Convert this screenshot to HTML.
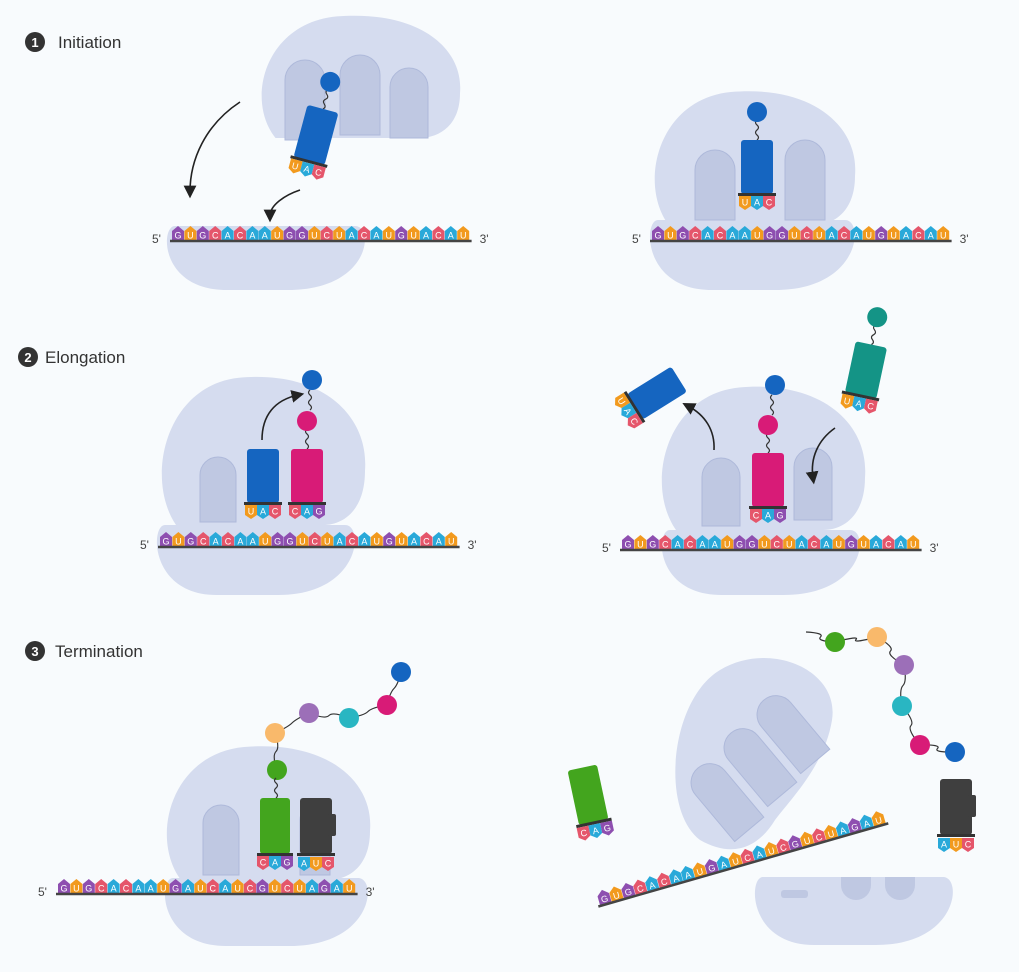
<!DOCTYPE html>
<html><head><meta charset="utf-8">
<style>
html,body{margin:0;padding:0;background:#f8fbfd;}
svg{display:block;font-family:"Liberation Sans",sans-serif;}
</style></head>
<body>
<svg id="s" width="1019" height="972" viewBox="0 0 1019 972" xmlns="http://www.w3.org/2000/svg">
<defs>
<marker id="ah" markerWidth="8" markerHeight="8" refX="4" refY="4" orient="auto"><path d="M0,0 L8,4 L0,8 Z" fill="#222"/></marker>
</defs>
<rect width="1019" height="972" fill="#f8fbfd"/>
<g id="rib" fill="#d5dcef"></g>
<g id="fg"></g>
<circle cx="35" cy="42" r="10" fill="#333"/><text x="35" y="47" font-size="13" fill="#fff" text-anchor="middle" font-weight="bold">1</text>
<text x="58" y="48" font-size="17" fill="#333">Initiation</text>
<circle cx="28" cy="357" r="10" fill="#333"/><text x="28" y="362" font-size="13" fill="#fff" text-anchor="middle" font-weight="bold">2</text>
<text x="45" y="363" font-size="17" fill="#333">Elongation</text>
<circle cx="35" cy="651" r="10" fill="#333"/><text x="35" y="656" font-size="13" fill="#fff" text-anchor="middle" font-weight="bold">3</text>
<text x="55" y="657" font-size="17" fill="#333">Termination</text>
</svg>
<script>
var C={G:"#8e4fb0",U:"#f29a1e",C:"#e5566b",A:"#29a9d9"};
var rib=document.getElementById('rib'),fg=document.getElementById('fg');
var R='',F='';
function tunnel(x,y,w,h){return '<path d="M'+x+','+(y+h)+' V'+(y+w/2)+' a'+(w/2)+','+(w/2)+' 0 0 1 '+w+',0 V'+(y+h)+' Z" fill="#bfc8e2" stroke="#aeb9da" stroke-width="1"/>';}
function large(x,y,w,h,tunnels){
  var s='<path d="M'+(x+w*0.1)+','+(y+h)+' C'+(x-w*0.05)+','+(y+h*0.7)+' '+(x+w*0.05)+','+(y+h*0.1)+' '+(x+w*0.4)+','+(y+h*0.05)+' C'+(x+w*0.8)+','+(y)+' '+(x+w*1.02)+','+(y+h*0.3)+' '+(x+w)+','+(y+h*0.65)+' C'+(x+w)+','+(y+h*0.9)+' '+(x+w*0.9)+','+(y+h)+' '+(x+w*0.8)+','+(y+h)+' Z" fill="#d5dcef"/>';
  (tunnels||[]).forEach(function(t){s+=tunnel(t[0],t[1],t[2],t[3]);});
  return s;}
function small(x,y,w,h){return '<path d="M'+(x+10)+','+y+' H'+(x+w-15)+' C'+(x+w+5)+','+y+' '+(x+w)+','+(y+h)+' '+(x+w*0.6)+','+(y+h)+' H'+(x+w*0.3)+' C'+(x-5)+','+(y+h)+' '+(x-5)+','+y+' '+(x+10)+','+y+' Z" fill="#d5dcef"/>';}
function nuc(x,y,l,down){var c=C[l],p;
  if(!down){p='M'+x+','+(y+11)+' V'+(y+2)+' L'+(x+6)+','+(y-3)+' L'+(x+12)+','+(y+2)+' V'+(y+11)+' Z';}
  else{p='M'+x+','+y+' V'+(y+10)+' L'+(x+6)+','+(y+14)+' L'+(x+12)+','+(y+10)+' V'+y+' Z';}
  return '<path d="'+p+'" fill="'+c+'"/><text x="'+(x+6)+'" y="'+(y+9.5)+'" font-size="9" fill="#fff" text-anchor="middle">'+l+'</text>';}
function strand(x0,y0,ang,seq,p5,p3){
  var s='<g transform="translate('+x0+','+y0+') rotate('+ang+')">';
  for(var i=0;i<seq.length;i++)s+=nuc(i*12.4,-11,seq[i],false);
  s+='<line x1="-2" y1="1" x2="'+(seq.length*12.4+2)+'" y2="1" stroke="#444" stroke-width="2.5"/>';
  if(p5)s+='<text x="-20" y="3" font-size="12" fill="#444">5\'</text>';
  if(p3)s+='<text x="'+(seq.length*12.4+10)+'" y="3" font-size="12" fill="#444">3\'</text>';
  return s+'</g>';}
function wave(x,y1,y2){var s='M'+x+','+y1,dir=1;for(var y=y1;y>y2;y-=5){s+=' q'+(3*dir)+',-2.5 0,-5';dir=-dir;}return '<path d="'+s+'" fill="none" stroke="#333" stroke-width="1.2"/>';}
function trna(cx,cy,ang,col,ac,aa,w,h){w=w||32;h=h||54;
  var s='<g transform="translate('+cx+','+cy+') rotate('+ang+')">';
  if(aa){s+=wave(0,-h/2,-h/2-18)+'<circle cx="0" cy="'+(-h/2-28)+'" r="10" fill="'+aa+'"/>';}
  s+='<rect x="'+(-w/2)+'" y="'+(-h/2)+'" width="'+w+'" height="'+h+'" rx="3" fill="'+col+'"/>';
  s+='<rect x="'+(-w/2-3)+'" y="'+(h/2-1)+'" width="'+(w+6)+'" height="3" fill="#333"/>';
  for(var i=0;i<ac.length;i++)s+=nuc(-ac.length*6+i*12,h/2+2,ac[i],true);
  return s+'</g>';}
function rf(cx,cy){return '<g transform="translate('+cx+','+cy+')"><rect x="-16" y="-28" width="32" height="56" rx="3" fill="#3f3f3f"/><rect x="12" y="-12" width="8" height="22" rx="2" fill="#3f3f3f"/><rect x="-19" y="27" width="38" height="3" fill="#333"/></g>';}
function chain(pts){var s='';for(var i=0;i<pts.length-1;i++){var a=pts[i],b=pts[i+1];var mx=(a[0]+b[0])/2,my=(a[1]+b[1])/2;s+='<path d="M'+a[0]+','+a[1]+' Q'+(mx+4)+','+(my-4)+' '+mx+','+my+' T'+b[0]+','+b[1]+'" fill="none" stroke="#333" stroke-width="1.2"/>';}
  pts.forEach(function(p){s+='<circle cx="'+p[0]+'" cy="'+p[1]+'" r="10" fill="'+p[2]+'"/>';});return s;}
function arrow(d){return '<path d="'+d+'" fill="none" stroke="#222" stroke-width="1.6" marker-end="url(#ah)"/>';}
var S1="GUGCACAAUGGUCUACAUGUACAU",S3="GUGCACAAUGAUCAUCGUCUAGAU";
// Panel 1 left
R+=small(165,226,205,64);
R+=large(255,10,205,128,[[285,60,40,80],[340,55,40,80],[390,68,38,70]]);
F+=strand(172,240,0,S1,true,true);
F+=trna(316,135,15,"#1565c0","UAC","#1565c0");
F+=arrow("M240,102 C205,125 190,160 190,192");
F+=arrow("M300,190 C285,195 270,205 270,216");
// Panel 1 right
R+=small(648,220,212,70);
R+=large(648,85,207,140,[[695,150,40,70],[785,140,40,80]]);
F+=strand(652,240,0,S1,true,true);
F+=trna(757,167,0,"#1565c0","UAC","#1565c0");
// Panel 2 left
R+=small(155,525,205,70);
R+=large(155,370,210,155,[[200,457,36,65]]);
F+=strand(160,546,0,S1,true,true);
F+=trna(263,476,0,"#1565c0","UAC",null);
F+=trna(307,476,0,"#d81b77","CAG","#d81b77");
F+=wave(310,410,390)+'<circle cx="312" cy="380" r="10" fill="#1565c0"/>';
F+=arrow("M262,440 C262,415 275,400 298,395");
// Panel 2 right
R+=small(660,530,205,65);
R+=large(655,380,210,150,[[702,458,38,68],[794,448,38,72]]);
F+=strand(622,549,0,S1,true,true);
F+=trna(768,480,0,"#d81b77","CAG","#d81b77");
F+=wave(772,415,395)+'<circle cx="775" cy="385" r="10" fill="#1565c0"/>';
F+=trna(657,393,58,"#1565c0","UAC",null,30,52);
F+=trna(866,370,12,"#149486","UAC","#149486",32,52);
F+=arrow("M714,450 C715,430 705,415 688,406");
F+=arrow("M835,428 C818,440 810,458 813,478");
// Panel 3 left
R+=small(163,878,210,68);
R+=large(160,740,210,140,[[203,805,36,70],[300,805,30,70]]);
F+=strand(58,893,0,S3,true,true);
F+=trna(275,826,0,"#43a51e","CAG",null,30,56);
F+=rf(316,826)+nuc(298,857,"A",true)+nuc(310,857,"U",true)+nuc(322,857,"C",true);
F+=chain([[401,672,"#1565c0"],[387,705,"#d81b77"],[349,718,"#29b6c2"],[309,713,"#9c6fb8"],[275,733,"#f9b96b"],[277,770,"#43a51e"]]);
F+=wave(276,798,780);
// Panel 3 right
R+='<path d="M700,840 C660,810 670,700 720,670 C770,640 840,670 832,720 C825,765 790,800 775,820 C760,845 735,860 700,840 Z" fill="#d5dcef"/>';
R+='<g transform="rotate(-40 722 800)">'+tunnel(705,760,38,80)+'</g>';
R+='<g transform="rotate(-40 755 765)">'+tunnel(738,725,38,80)+'</g>';
R+='<g transform="rotate(-40 788 732)">'+tunnel(771,692,38,80)+'</g>';
R+=small(753,877,205,68)+'<rect x="781" y="890" width="27" height="8" rx="3" fill="#bfc8e2"/><path d="M841,877 v8 a15,15 0 0 0 30,0 v-8 Z M885,877 v8 a15,15 0 0 0 30,0 v-8 Z" fill="#bfc8e2"/>';
F+=strand(600,905,-16,S3,false,false);
F+=trna(588,795,-12,"#43a51e","CAG",null,30,56);
F+=rf(956,807)+nuc(938,838,"A",true)+nuc(950,838,"U",true)+nuc(962,838,"C",true);
F+=chain([[806,632,"#fff0"],[835,642,"#43a51e"],[877,637,"#f9b96b"],[904,665,"#9c6fb8"],[902,706,"#29b6c2"],[920,745,"#d81b77"],[955,752,"#1565c0"]]);
rib.innerHTML=R;fg.innerHTML=F;
</script>
</body></html>
